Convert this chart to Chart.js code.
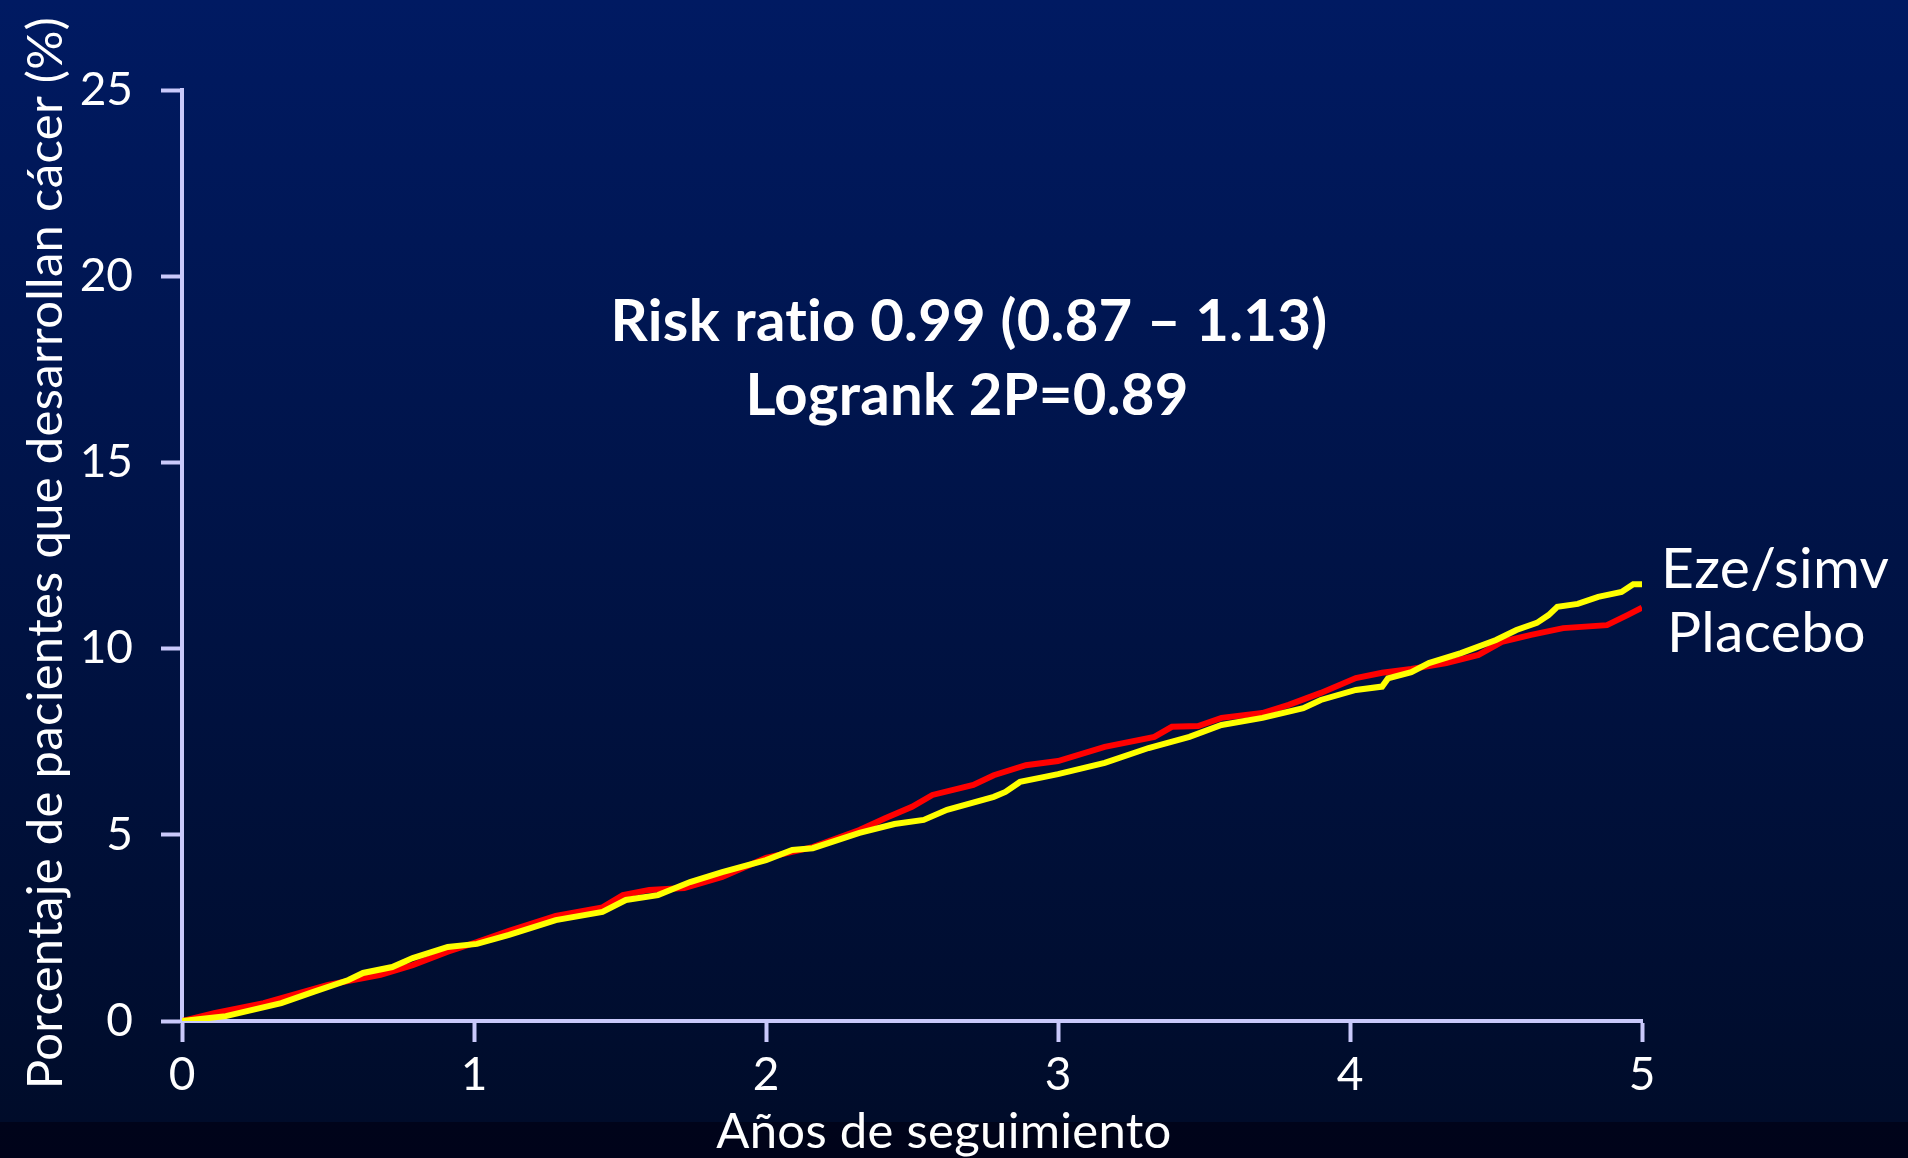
<!DOCTYPE html>
<html>
<head>
<meta charset="utf-8">
<script src="https://cdn.jsdelivr.net/npm/chart.js@4"></script>
<style>
  html, body { margin: 0; padding: 0; }
  body {
    width: 1908px; height: 1158px; overflow: hidden;
    background: linear-gradient(to bottom, #001a62 0px, #000c2a 1122px, #00041a 1122px, #00031a 1158px);
  }
  canvas { display: block; }
</style>
</head>
<body>
<canvas id="kmChart" width="1908" height="1158"></canvas>
<script>
// Years of follow-up / cumulative % with cancer
const ezeYears = [0, 0.15, 0.34, 0.45, 0.57, 0.62, 0.72, 0.79, 0.91, 1.01, 1.12, 1.28, 1.44, 1.52, 1.63, 1.74, 1.85, 2.0,
  2.09, 2.16, 2.32, 2.44, 2.54, 2.62, 2.78, 2.82, 2.87, 2.95, 3.0, 3.16, 3.31, 3.45, 3.56, 3.7, 3.84, 3.9, 4.02,
  4.11, 4.13, 4.21, 4.27, 4.38, 4.5, 4.57, 4.64, 4.68, 4.71, 4.78, 4.85, 4.93, 4.97, 5.0];
const ezeValues = [0, 0.13, 0.48, 0.78, 1.1, 1.29, 1.45, 1.69, 1.99, 2.07, 2.31, 2.71, 2.93, 3.25, 3.38, 3.73, 4.0, 4.32,
  4.59, 4.64, 5.05, 5.29, 5.4, 5.67, 6.02, 6.15, 6.42, 6.55, 6.63, 6.93, 7.33, 7.63, 7.95, 8.14, 8.4, 8.62, 8.89,
  8.98, 9.2, 9.37, 9.61, 9.88, 10.23, 10.5, 10.69, 10.9, 11.12, 11.2, 11.39, 11.52, 11.73, 11.73];

const placeboYears = [0, 0.11, 0.28, 0.5, 0.68, 0.79, 0.91, 1.01, 1.12, 1.28, 1.44, 1.51, 1.6, 1.72, 1.85, 2.0, 2.16,
  2.32, 2.41, 2.5, 2.57, 2.71, 2.78, 2.89, 3.0, 3.16, 3.33, 3.39, 3.48, 3.56, 3.7, 3.79, 3.9, 4.02, 4.11, 4.21,
  4.33, 4.44, 4.52, 4.62, 4.73, 4.88, 4.95, 5.0];
const placeboValues = [0, 0.21, 0.48, 0.97, 1.24, 1.5, 1.86, 2.12, 2.42, 2.82, 3.05, 3.38, 3.52, 3.57, 3.87, 4.38, 4.67,
  5.13, 5.45, 5.75, 6.07, 6.34, 6.6, 6.87, 6.98, 7.36, 7.63, 7.9, 7.92, 8.14, 8.27, 8.49, 8.81, 9.21, 9.35, 9.45,
  9.61, 9.83, 10.18, 10.37, 10.55, 10.63, 10.9, 11.1];

const xTicks = [0, 1, 2, 3, 4, 5];
const yTicks = [0, 5, 10, 15, 20, 25];

const AXIS = "#c9c9fb";
const FONT = "Lato";

const toPoints = (xs, ys) => xs.map((x, i) => ({ x: x, y: ys[i] }));

// Titles, stats and the curve labels drawn straight onto the canvas
const textPlugin = {
  id: "slideText",
  afterDraw(chart) {
    const ctx = chart.ctx;
    ctx.save();
    ctx.fillStyle = "#ffffff";
    ctx.textAlign = "center";
    ctx.textBaseline = "middle";
    ctx.letterSpacing = "0.3px"; // keeps "ti" from turning into a ligature

    ctx.font = `bold 58px ${FONT}`;
    ctx.fillText("Risk ratio 0.99 (0.87 \u2013 1.13)", 969, 322);
    ctx.fillText("Logrank 2P=0.89", 967, 396);

    ctx.font = `49px ${FONT}`;
    ctx.fillText("A\u00f1os de seguimiento", 944, 1132);

    ctx.save();
    ctx.translate(46, 553);
    ctx.rotate(-Math.PI / 2);
    ctx.fillText("Porcentaje de pacientes que desarrollan c\u00e1cer (%)", 0, 0);
    ctx.restore();

    ctx.textAlign = "left";
    ctx.font = `57px ${FONT}`;
    ctx.fillText("Eze/simv", 1661, 570);
    ctx.fillText("Placebo", 1667, 634);
    ctx.restore();
  }
};

const ctx = document.getElementById("kmChart").getContext("2d");

new Chart(ctx, {
  type: "line",
  data: {
    datasets: [
      {
        label: "Eze/simv",
        data: toPoints(ezeYears, ezeValues),
        borderColor: "#ffff00",
        borderWidth: 6,
        pointRadius: 0,
        tension: 0,
      },
      {
        label: "Placebo",
        data: toPoints(placeboYears, placeboValues),
        borderColor: "#ff0000",
        borderWidth: 6,
        pointRadius: 0,
        tension: 0,
      },
    ],
  },
  options: {
    responsive: false,
    animation: false,
    layout: { padding: { top: 90, right: 266, bottom: 0, left: 0 } },
    plugins: {
      legend: { display: false },
      tooltip: { enabled: false },
    },
    scales: {
      x: {
        type: "linear",
        min: 0,
        max: 5,
        afterBuildTicks: (s) => { s.ticks = xTicks.map(v => ({ value: v })); },
        afterFit: (s) => { s.height = 137; },
        ticks: { color: "#ffffff", font: { family: FONT, size: 46 }, padding: 6 },
        grid: { drawOnChartArea: false, tickLength: 21, tickWidth: 4, tickColor: AXIS },
        border: { color: AXIS, width: 4 },
      },
      y: {
        min: 0,
        max: 25,
        afterBuildTicks: (s) => { s.ticks = yTicks.map(v => ({ value: v })); },
        afterFit: (s) => { s.width = 182; },
        ticks: { color: "#ffffff", font: { family: FONT, size: 46 }, padding: 28 },
        grid: { drawOnChartArea: false, tickLength: 21, tickWidth: 4, tickColor: AXIS },
        border: { color: AXIS, width: 4 },
      },
    },
  },
  plugins: [textPlugin],
});
</script>
</body>
</html>
